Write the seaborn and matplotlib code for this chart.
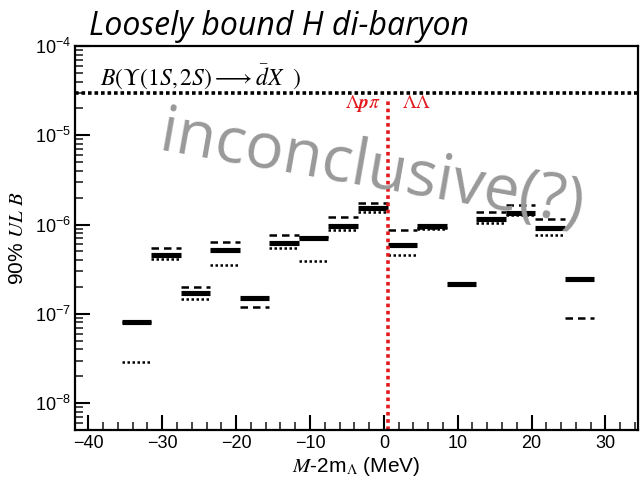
import numpy as np
import pandas as pd
import matplotlib
matplotlib.use("Agg")
import matplotlib.pyplot as plt
import seaborn as sns
from matplotlib.ticker import LogLocator, MultipleLocator, NullFormatter

# ---- data ----
bin_centers = [-33.5, -29.5, -25.5, -21.5, -17.5, -13.5, -9.5, -5.5,
               -1.5, 2.5, 6.5, 10.5, 14.5, 18.5, 22.5, 26.5]
ul_solid = [8.0e-8, 4.6e-7, 1.70e-7, 5.2e-7, 1.50e-7, 6.2e-7, 7.0e-7, 9.75e-7,
            1.52e-6, 5.97e-7, 9.6e-7, 2.18e-7, 1.14e-6, 1.34e-6, 9.25e-7, 2.44e-7]
ul_dashed = [8.2e-8, 5.4e-7, 2.0e-7, 6.3e-7, 1.19e-7, 7.7e-7, 7.3e-7, 1.20e-6,
             1.73e-6, 8.7e-7, 9.2e-7, np.nan, 1.37e-6, 1.64e-6, 1.14e-6, 8.9e-8]
ul_dotted = [2.92e-8, 4.16e-7, 1.48e-7, 3.5e-7, np.nan, 5.48e-7, 3.93e-7, 8.8e-7,
             1.37e-6, 4.61e-7, 8.9e-7, np.nan, 1.03e-6, 1.27e-6, 7.7e-7, np.nan]
dbar_level = 3.0e-5
threshold_x = 0.5
x_ticks = [-40, -30, -20, -10, 0, 10, 20, 30]

half = 2.0


def seg_df(vals):
    rows = []
    for i, (c, v) in enumerate(zip(bin_centers, vals)):
        if v is None or np.isnan(v):
            continue
        rows.append(dict(x=c - half, y=v, unit=i))
        rows.append(dict(x=c + half, y=v, unit=i))
    return pd.DataFrame(rows)


sns.set_theme(style="ticks")
plt.rcParams["font.family"] = ["Liberation Sans", "DejaVu Sans"]
plt.rcParams["mathtext.fontset"] = "stix"

fig = plt.figure(figsize=(6.44, 4.82), dpi=100)
ax = fig.add_axes([75 / 644, 1 - 430 / 482, 563 / 644, 384 / 482])
ax.set_yscale("log")

sns.lineplot(data=seg_df(ul_dotted), x="x", y="y", units="unit", estimator=None,
             color="black", lw=1.8, linestyle=(0, (1, 1)), ax=ax, legend=False)
sns.lineplot(data=seg_df(ul_dashed), x="x", y="y", units="unit", estimator=None,
             color="black", lw=1.8, linestyle=(0, (3, 2)), ax=ax, legend=False)
sns.lineplot(data=seg_df(ul_solid), x="x", y="y", units="unit", estimator=None,
             color="black", lw=3.7, solid_capstyle="butt", ax=ax, legend=False)

ax.axhline(dbar_level, color="black", lw=2.6, linestyle=(0, (1, 0.8)))
ax.plot([threshold_x, threshold_x], [5e-9, dbar_level * 0.88], color="#e3191e",
        lw=2.6, linestyle=(0, (1, 1)))

ax.set_xlim(-41.8, 34.4)
ax.set_ylim(5e-9, 1e-4)

ax.xaxis.set_major_locator(plt.FixedLocator(x_ticks))
ax.xaxis.set_minor_locator(MultipleLocator(2))
ax.yaxis.set_major_locator(LogLocator(base=10, numticks=10))
ax.yaxis.set_minor_locator(LogLocator(base=10, subs=np.arange(2, 10), numticks=20))
ax.yaxis.set_minor_formatter(NullFormatter())
ax.tick_params(axis="both", which="both", direction="in", top=False, right=False)
ax.tick_params(axis="both", which="major", length=11, width=1.5, labelsize=13, colors="black")
ax.tick_params(axis="both", which="minor", length=6, width=1.2)
ax.tick_params(axis="y", which="major", pad=3)
for sp in ax.spines.values():
    sp.set_linewidth(1.6)
    sp.set_color("black")

ax.set_xlabel(r"$\mathit{M}$-2m$_{\Lambda}$ (MeV)", fontsize=15, color="black")
ax.xaxis.set_label_coords(0.5, -0.066)
ax.set_ylabel(r"90% $\mathit{UL\ B}$", fontsize=15, color="black")
ax.yaxis.set_label_coords(-0.085, 0.5)

ax.text(-38.4, 4.4e-5, r"$B(\Upsilon(1S{,}\,2S)\longrightarrow\bar{d}X\ \ )$", fontsize=17,
        color="black", ha="left", va="center")
ax.text(-0.4, 2.25e-5, r"$\Lambda\mathbfit{p}\pi$", fontsize=14, color="#e3191e",
        ha="right", va="center")
ax.text(2.5, 2.25e-5, r"$\Lambda\Lambda$", fontsize=14, color="#e3191e",
        ha="left", va="center")

fig.text(0.433, 0.945, "Loosely bound H di-baryon", fontsize=23, style="italic",
         family=["Open Sans", "DejaVu Sans"], ha="center", va="center", color="black")
fig.text(0.578, 0.645, "inconclusive(?)", fontsize=46, rotation=-10,
         rotation_mode="anchor", family=["Open Sans", "DejaVu Sans"],
         ha="center", va="center", color="#999999")

fig.savefig("out.png", dpi=100)
